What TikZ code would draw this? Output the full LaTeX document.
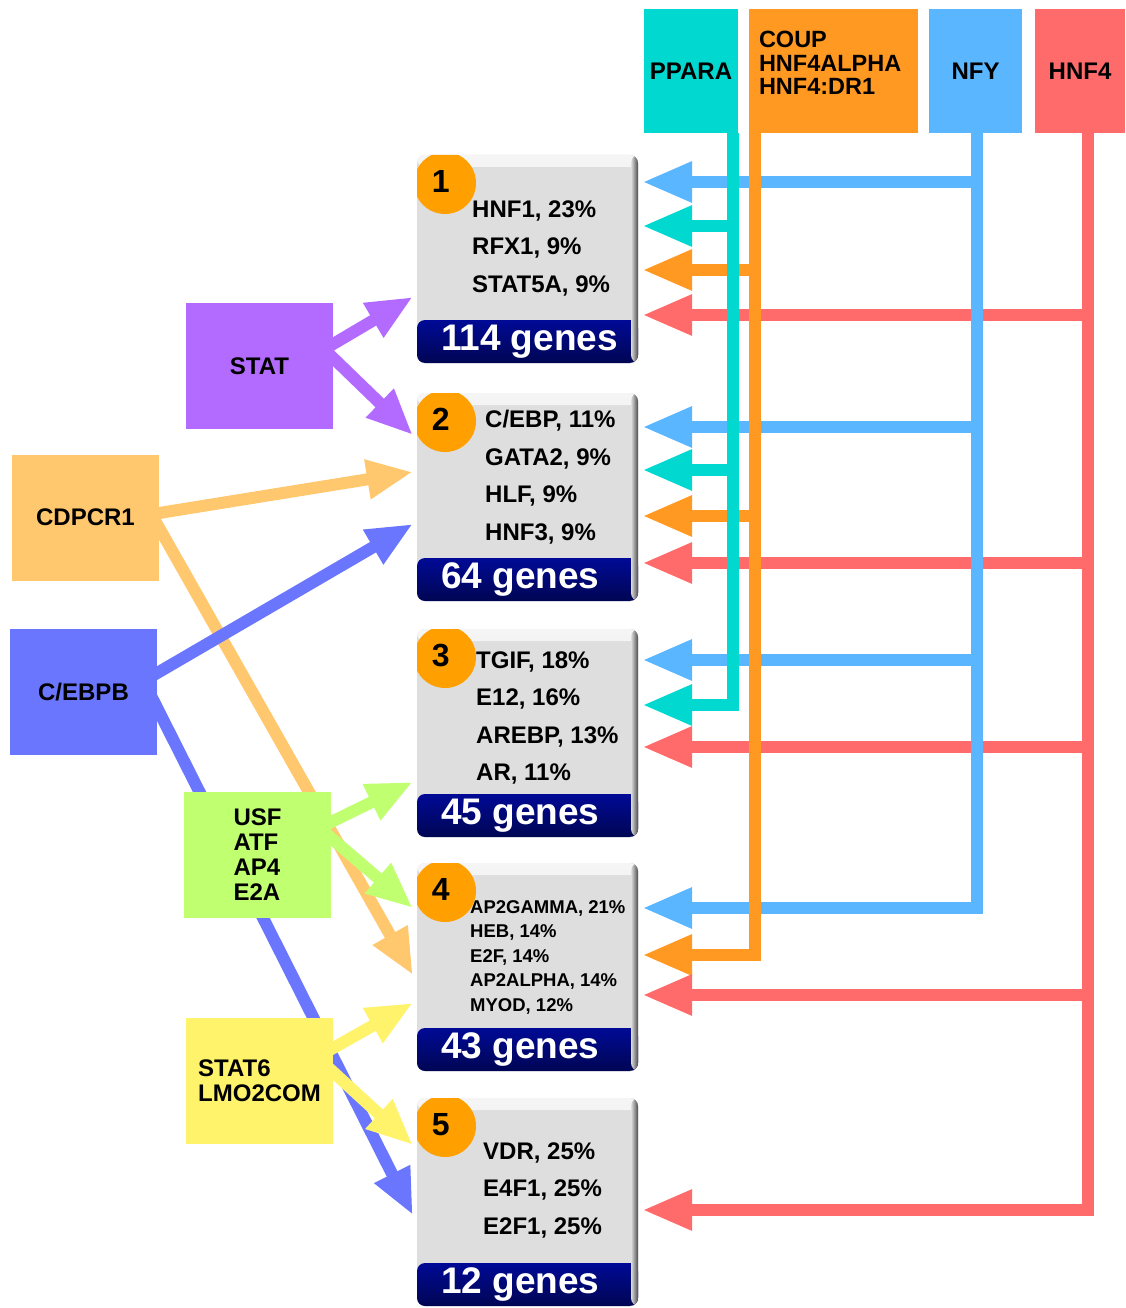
\documentclass[tikz,border=0pt]{standalone}
\usepackage{fontspec}
\setmainfont{Liberation Sans}
\usetikzlibrary{positioning, arrows.meta, backgrounds}

\definecolor{pparac}{RGB}{0,216,208}
\definecolor{coupc}{RGB}{255,153,34}
\definecolor{nfyc}{RGB}{90,182,255}
\definecolor{hnf4c}{RGB}{255,107,107}
\definecolor{statc}{RGB}{179,107,255}
\definecolor{cdpc}{RGB}{255,200,110}
\definecolor{cebpbc}{RGB}{107,118,255}
\definecolor{usfc}{RGB}{192,255,112}
\definecolor{stat6c}{RGB}{255,243,107}
\definecolor{numc}{RGB}{255,160,0}
\definecolor{barc}{RGB}{0,10,150}
\definecolor{boxc}{RGB}{222,222,222}

\begin{document}
\begin{tikzpicture}[
  x=1pt, y=-1pt,
  font=\bfseries\fontsize{24}{25}\selectfont,
  srcbox/.style={minimum width=147pt, minimum height=126pt, inner sep=0pt, align=left},
  tfbox/.style={minimum height=124pt, inner sep=0pt, align=left},
  genebox/.style={rounded corners=8pt, fill=boxc, minimum width=221pt, minimum height=208pt, inner sep=0pt,
    path picture={
      \shade[top color=boxc!30!white, bottom color=boxc] (path picture bounding box.north west) rectangle ([yshift=-12]path picture bounding box.north east);
      \fill[numc] ([xshift=28,yshift=-28]path picture bounding box.north west) circle (31);
      \shade[top color=barc, bottom color=barc!55!black] (path picture bounding box.south west) rectangle ([yshift=43]path picture bounding box.south east);
      \shade[left color=boxc, right color=black!70] ([xshift=-7]path picture bounding box.north east) rectangle (path picture bounding box.south east);
    }},
  num/.style={font=\bfseries\fontsize{32}{32}\selectfont, inner sep=0pt},
  cnt/.style={font=\bfseries\fontsize{37}{37}\selectfont, text=white, inner sep=0pt, anchor=west},
  lst/.style={font=\bfseries\fontsize{24}{37.5}\selectfont, inner sep=0pt, anchor=west, align=left},
  la/.style={line width=12pt, shorten <=-20pt, -{Triangle[length=46pt, width=37pt]}},
  ha/.style={line width=12pt, -{Triangle[length=50pt, width=38pt]}},
  trunk/.style={line width=12pt}
]
\useasboundingbox (0,0) rectangle (1125,1308);

\foreach \i/\y/\n in {1/259/114, 2/497/64, 3/733/45, 4/967/43, 5/1202/12} {
  \node[genebox] (g\i) at (527.5,\y) {};
  \node[num] (n\i) at ([xshift=24,yshift=-27]g\i.north west) {\i};
  \node[cnt] (c\i) at ([xshift=24,yshift=21.5]g\i.south west) {\n\ genes};
}
\node[lst] (l1) at (472,248) {HNF1, 23\%\\RFX1, 9\%\\STAT5A, 9\%};
\node[lst] (l2) at (485,477) {C/EBP, 11\%\\GATA2, 9\%\\HLF, 9\%\\HNF3, 9\%};
\node[lst] (l3) at (476,718) {TGIF, 18\%\\E12, 16\%\\AREBP, 13\%\\AR, 11\%};
\node[lst, font=\bfseries\fontsize{18.5}{24.5}\selectfont] (l4) at (470,957) {AP2GAMMA, 21\%\\HEB, 14\%\\E2F, 14\%\\AP2ALPHA, 14\%\\MYOD, 12\%};
\node[lst] (l5) at (483,1190) {VDR, 25\%\\E4F1, 25\%\\E2F1, 25\%};

\node[tfbox, fill=pparac, minimum width=94pt] (ppara) at (691,71) {PPARA};
\node[tfbox, fill=coupc, minimum width=169pt] (coup) at (833.5,71) {};
\node[anchor=west, align=left, inner sep=0pt, font=\bfseries\fontsize{23.5}{23.5}\selectfont] (coupt) at ([xshift=10,yshift=8]coup.west) {COUP\\HNF4ALPHA\\HNF4:DR1};
\node[tfbox, fill=nfyc, minimum width=93pt] (nfy) at (975.5,71) {NFY};
\node[tfbox, fill=hnf4c, minimum width=90pt] (hnf4) at (1080,71) {HNF4};

\node[srcbox, fill=statc] (stat) at (259.5,366) {STAT};
\node[srcbox, fill=cdpc] (cdp) at (85.5,517.5) {CDPCR1};
\node[srcbox, fill=cebpbc] (cebpb) at (83.5,692) {C/EBPB};
\node[srcbox, fill=usfc] (usf) at (257.5,854.5) {USF\\ATF\\AP4\\E2A};
\node[srcbox, fill=stat6c] (stat6) at (259.5,1080.5) {STAT6\\LMO2COM};

\coordinate (tP) at ([xshift=42]ppara.south);
\coordinate (tC) at ([xshift=-78.5]coup.south);
\coordinate (tN) at ([xshift=1.5]nfy.south);
\coordinate (tH) at ([xshift=8]hnf4.south);
\coordinate (rx) at ([xshift=4]g1.east);
\coordinate (lx) at ([xshift=-4]g1.west);

\begin{scope}[on background layer]
\foreach \s/\c/\dy/\y in {stat/statc/22/297, stat/statc/8/435, cdp/cdpc/4.5/472, cdp/cdpc/-10.5/975,
  cebpb/cebpbc/19/524, cebpb/cebpbc/-16/1215, usf/usfc/32.5/782, usf/usfc/16.5/908,
  stat6/stat6c/32.5/1003, stat6/stat6c/8.5/1145}
  \draw[la, \c] ([yshift=\dy]\s.east) -- (lx |- 0,\y);
\foreach \t/\c/\y in {tN/nfyc/182, tP/pparac/226, tC/coupc/270, tH/hnf4c/315,
  tN/nfyc/427, tP/pparac/470, tC/coupc/516, tH/hnf4c/563,
  tN/nfyc/660, tP/pparac/705, tH/hnf4c/747,
  tN/nfyc/908, tC/coupc/955, tH/hnf4c/995, tH/hnf4c/1210}
  \draw[ha, \c] (\t |- 0,\y) -- (rx |- 0,\y);
\foreach \t/\c/\y in {tP/pparac/711, tC/coupc/961, tN/nfyc/914, tH/hnf4c/1216}
  \draw[trunk, \c] (\t) -- (\t |- 0,\y);
\end{scope}
\end{tikzpicture}
\end{document}
